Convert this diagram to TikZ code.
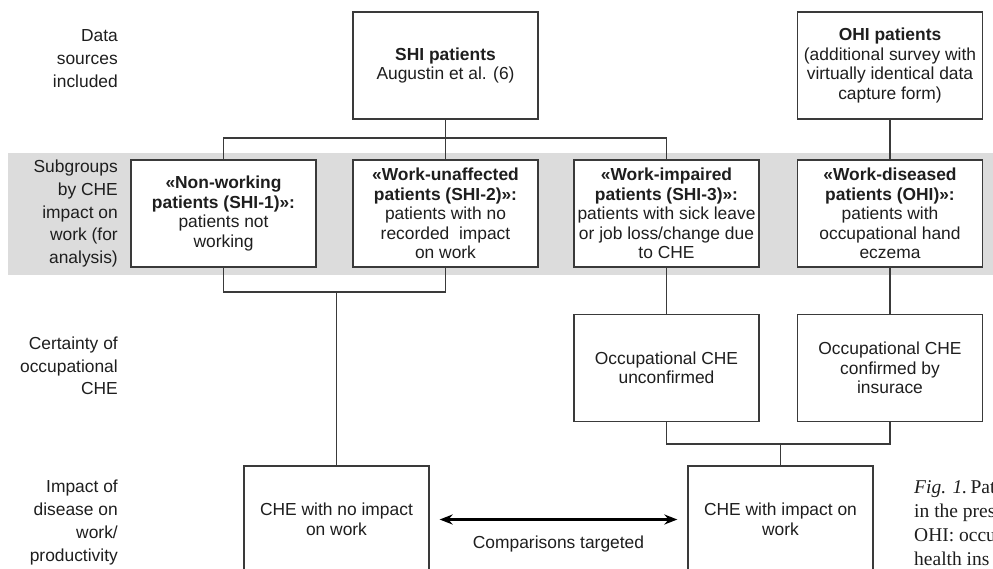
\documentclass[tikz,border=0pt]{standalone}
\usepackage{fontspec}
\setmainfont{Liberation Sans}
\newfontfamily\capfont{Liberation Serif}
\usepackage{tikz}
\usetikzlibrary{arrows.meta,positioning}
\definecolor{bandgray}{HTML}{DCDCDC}
\definecolor{linegray}{HTML}{3A3A3A}
\definecolor{textdark}{HTML}{1E1E1E}

\begin{document}
\begin{tikzpicture}[x=1pt, y=-1pt,
    box/.style={draw=linegray, line width=1.3pt, fill=white, minimum width=185pt, minimum height=107pt, align=center, inner sep=2pt, text=textdark, font=\fontsize{17.4}{19.5}\selectfont},
    rowlabel/.style={anchor=east, align=right, inner sep=0pt, text=textdark, font=\fontsize{17.4}{22.7}\selectfont},
    link/.style={draw=linegray, line width=1.3pt},
    comparrow/.style={{Stealth[length=13pt,width=10pt]}-{Stealth[length=13pt,width=10pt]}, line width=2.2pt, black, shorten <=10pt, shorten >=10pt}]
    \clip (0,0) rectangle (993,568);

    % Shaded band behind the subgroups
    \fill[bandgray] (8,153) rectangle (993,275);

    % Row labels
    \node[rowlabel] (lbldata) at (118,58.5) {Data\\sources\\included};
    \node[rowlabel] (lblsub) at (118,213.5) {Subgroups\\by CHE\\impact on\\work (for\\analysis)};
    \node[rowlabel] (lblcert) at (118,366) {Certainty of\\occupational\\CHE};
    \node[rowlabel] (lblimpact) at (118,522.5) {Impact of\\disease on\\work/\\productivity};

    % Data sources
    \node[box] (shi) at (445.5,65.5) {\textbf{SHI patients}\\Augustin et al. (6)};
    \node[box] (ohi) at (890,65.5) {\textbf{OHI patients}\\(additional survey with\\virtually identical data\\capture form)};

    % Subgroups
    \node[box] (sub1) at (223.5,213.5) {\textbf{«Non-working}\\\textbf{patients (SHI-1)»:}\\patients not\\working};
    \node[box] (sub2) at (445.5,213.5) {\textbf{«Work-unaffected}\\\textbf{patients (SHI-2)»:}\\patients with no\\recorded\ \ impact\\on work};
    \node[box] (sub3) at (666.5,213.5) {\textbf{«Work-impaired}\\\textbf{patients (SHI-3)»:}\\patients with sick leave\\or job loss/change due\\to CHE};
    \node[box] (sub4) at (890,213.5) {\textbf{«Work-diseased}\\\textbf{patients (OHI)»:}\\patients with\\occupational hand\\eczema};

    % Certainty of occupational CHE
    \node[box] (unconf) at (666.5,368) {Occupational CHE\\unconfirmed};
    \node[box] (conf) at (890,368) {Occupational CHE\\confirmed by\\insurace};

    % Impact on work
    \node[box] (noimpact) at (336.5,519.5) {CHE with no impact\\on work};
    \node[box] (impact) at (780.5,519.5) {CHE with impact on\\work};

    % Branch points
    \coordinate (split1) at (445.5,138);
    \coordinate (join1) at (336.5,292);
    \coordinate (join2) at (780.5,444);

    % Connectors
    \draw[link] (shi.south) -- (sub2.north);
    \draw[link] (sub1.north) |- (split1) -| (sub3.north);
    \draw[link] (ohi.south) -- (sub4.north);
    \draw[link] (sub1.south) |- (join1) -| (sub2.south);
    \draw[link] (join1) -- (noimpact.north);
    \draw[link] (sub3.south) -- (unconf.north);
    \draw[link] (sub4.south) -- (conf.north);
    \draw[link] (unconf.south) |- (join2) -| (conf.south);
    \draw[link] (join2) -- (impact.north);

    % Comparison arrow
    \draw[comparrow] (noimpact.east) -- (impact.west)
        node[midway, below=15pt, inner sep=0pt, text=textdark, font=\fontsize{17.4}{19.5}\selectfont] (cmplbl) {Comparisons targeted};

    % Caption (cut by the page edge)
    \node[anchor=north west, align=left, inner sep=0pt, text=textdark, font=\capfont\fontsize{19.5}{24}\selectfont] (caption) at (914,480)
        {\textit{Fig. 1.}\,Pat\\in the pres\\OHI: occu\\health ins};
\end{tikzpicture}
\end{document}
